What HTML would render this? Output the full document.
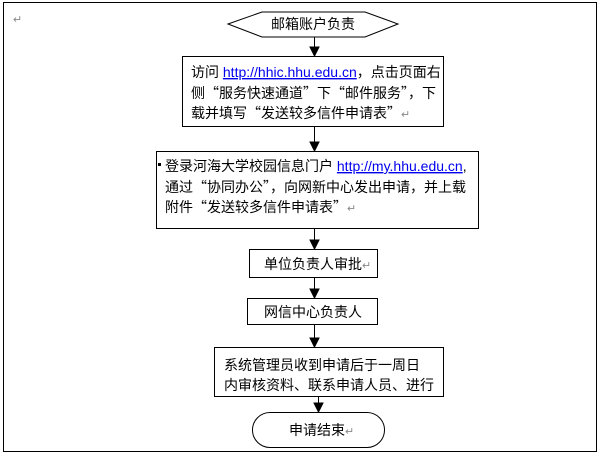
<!DOCTYPE html>
<html><head><meta charset="utf-8"><style>
body{margin:0;background:#fff;}
svg text{font-family:"Liberation Sans","Noto Sans CJK SC",sans-serif;font-size:14px;fill:#000;}
.q{font-family:"Noto Sans CJK SC",sans-serif;}
.u{fill:#0000ee;text-decoration:underline;}
.m{fill:#888;font-size:11px;}
</style></head><body>
<svg width="602" height="458" xmlns="http://www.w3.org/2000/svg">
<rect x="3.5" y="2.5" width="593" height="449" fill="none" stroke="#000"/>
<text x="13" y="23" class="m">↵</text>
<polygon points="228,24 262,12 365,12 398,24 365,37 262,37" fill="#fff" stroke="#000"/>
<text x="313" y="29" text-anchor="middle">邮箱账户负责</text>
<g stroke="#000">
<line x1="314.5" y1="37" x2="314.5" y2="55"/>
<polygon points="310,47 319,47 314.5,56" fill="#000"/>
<line x1="314.5" y1="126" x2="314.5" y2="151"/>
<polygon points="310,142 319,142 314.5,151" fill="#000"/>
<line x1="314.5" y1="228" x2="314.5" y2="249"/>
<polygon points="310,240 319,240 314.5,249" fill="#000"/>
<line x1="314.5" y1="277" x2="314.5" y2="298"/>
<polygon points="310,289 319,289 314.5,298" fill="#000"/>
<line x1="314.5" y1="324" x2="314.5" y2="347"/>
<polygon points="310,338 319,338 314.5,347" fill="#000"/>
<line x1="318.5" y1="396" x2="318.5" y2="412"/>
<polygon points="314,403 323,403 318.5,412" fill="#000"/>
</g>
<rect x="182.5" y="56.5" width="261" height="70" fill="#fff" stroke="#000"/>
<text x="191" y="77">访问 <tspan class="u">http://hhic.hhu.edu.cn</tspan>，点击页面右</text>
<text x="191" y="98" class="q">侧“服务快速通道”下“邮件服务”，下</text>
<text x="191" y="118"><tspan class="q">载并填写“发送较多信件申请表”</tspan><tspan class="m">↵</tspan></text>
<rect x="156.5" y="151.5" width="322" height="77" fill="#fff" stroke="#000"/>
<rect x="158" y="163" width="3" height="3" fill="#000"/>
<text x="165" y="171">登录河海大学校园信息门户 <tspan class="u">http://my.hhu.edu.cn</tspan>,</text>
<text x="165" y="192" class="q">通过“协同办公”，向网新中心发出申请，并上载</text>
<text x="165" y="212"><tspan class="q">附件“发送较多信件申请表”</tspan><tspan class="m">↵</tspan></text>
<rect x="249.5" y="249.5" width="128" height="28" fill="#fff" stroke="#000"/>
<text x="264" y="269">单位负责人审批<tspan class="m">↵</tspan></text>
<rect x="247.5" y="298.5" width="130" height="26" fill="#fff" stroke="#000"/>
<text x="313" y="317" text-anchor="middle">网信中心负责人</text>
<rect x="214.5" y="347.5" width="229" height="49" fill="#fff" stroke="#000"/>
<text x="224" y="370">系统管理员收到申请后于一周日</text>
<text x="224" y="390">内审核资料、联系申请人员、进行</text>
<rect x="252.5" y="412.5" width="132" height="35" rx="17.5" fill="#fff" stroke="#000"/>
<text x="289" y="435">申请结束<tspan class="m">↵</tspan></text>
</svg>
</body></html>
